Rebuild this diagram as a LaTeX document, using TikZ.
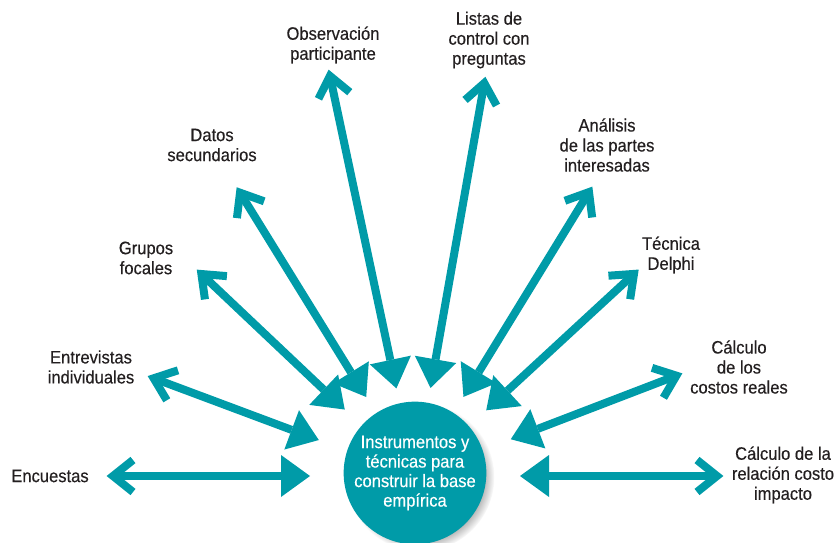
\documentclass[tikz,border=0pt]{standalone}
\usepackage{fontspec}
\setmainfont{Liberation Sans}[FakeStretch=0.92,FakeBold=0.35]
\usetikzlibrary{shadows,calc}
\definecolor{teal1}{RGB}{0,155,168}
\definecolor{txt}{RGB}{35,31,32}
\begin{document}
\begin{tikzpicture}[x=1pt,y=1pt,
  lbl/.style={text=txt,font=\fontsize{18}{20}\selectfont,align=center,inner sep=0pt},
  shaft/.style={draw=teal1,line width=8pt},
  chev/.style={draw=teal1,line width=8pt,miter limit=10},
  head/.style={fill=teal1}]
\useasboundingbox (0,0) rectangle (836,542);
\coordinate (C) at (415,66);
% labels
\node[lbl] (l1) at (50,66) {Encuestas};
\node[lbl] (l2) at (91,175) {Entrevistas\\individuales};
\node[lbl] (l3) at (146,284) {Grupos\\focales};
\node[lbl] (l4) at (212,397) {Datos\\secundarios};
\node[lbl] (l5) at (333,497) {Observación\\participante};
\node[lbl] (l6) at (489,502) {Listas de\\control con\\preguntas};
\node[lbl] (l7) at (607,397) {Análisis\\de las partes\\interesadas};
\node[lbl] (l8) at (671,287) {Técnica\\Delphi};
\node[lbl] (l9) at (739,175) {Cálculo\\de los\\costos reales};
\node[lbl] (l10) at (783,67) {Cálculo de la\\relación costo\\impacto};
% arrows
\foreach \n/\ang/\dist in {1/180/308, 2/159.5/285, 3/136.6/300, 4/121.7/339, 5/102/415,
                          6/80/405, 7/58.5/339, 8/42.7/304, 9/21/286, 10/0/308}{
  \pgfmathsetmacro\re{100*1.34*1.18/sqrt((1.18*cos(\ang))^2+(1.34*sin(\ang))^2)}
  \coordinate (E\n) at ($(C)+(\ang:\re)$);
  \coordinate (T\n) at ($(C)+(\ang:\re-29)$);
  \coordinate (V\n) at ($(C)+(\ang:\dist-6)$);
  \draw[shaft] (V\n) -- (E\n);
  \fill[head] (T\n) -- ($(E\n)+(\ang+90:21)$) -- ($(E\n)+(\ang-90:21)$) -- cycle;
  \draw[chev] ($(V\n)+(\ang+180:20)+(\ang+90:16)$) -- (V\n) -- ($(V\n)+(\ang+180:20)+(\ang-90:16)$);
}
% hub
\node[circle,fill=teal1,minimum size=140pt,inner sep=0pt,
  circular drop shadow={shadow xshift=5pt,shadow yshift=-4pt,shadow scale=1.04,opacity=0.6},
  text=white,font=\fontsize{18}{19.5}\selectfont,align=center] (hub) at (415,69)
  {Instrumentos y\\técnicas para\\construir la base\\empírica};
\end{tikzpicture}
\end{document}
